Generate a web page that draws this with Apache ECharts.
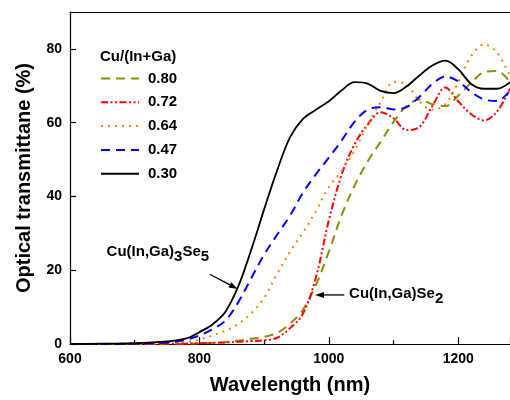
<!DOCTYPE html>
<html>
<head>
<meta charset="utf-8">
<script src="https://cdn.jsdelivr.net/npm/echarts@6/dist/echarts.min.js"></script>
<style>
  html, body { margin: 0; padding: 0; background: #fff; }
  #chart { width: 510px; height: 400px; }
</style>
</head>
<body>
<div id="chart"></div>
<script>
// Wavelength grid (nm) shared by every spectrum
const wavelength = [600, 650, 700, 750, 780, 800, 820, 840, 860, 880, 900, 920, 940, 960, 980,
  1000, 1020, 1040, 1060, 1080, 1100, 1120, 1140, 1160, 1180, 1200, 1220, 1240, 1260, 1280];

// Optical transmittance (%) for each Cu/(In+Ga) ratio
const t080 = [0, 0, 0, 0.1, 0.1, 0.2, 0.3, 0.5, 0.9, 1.4, 1.9, 3.0, 5.5, 9.3, 16.0,
  25.0, 35.0, 43.0, 49.5, 54.8, 60.2, 64.5, 66.3, 65.0, 64.5, 67.3, 70.8, 73.7, 74.0, 71.0];
const t072 = [0, 0, 0, 0.1, 0.1, 0.2, 0.3, 0.4, 0.6, 0.8, 1.0, 1.7, 4.3, 8.2, 18.0,
  33.5, 46.0, 54.2, 59.5, 62.8, 61.2, 58.0, 58.8, 64.5, 69.5, 65.8, 62.3, 60.6, 63.0, 69.2];
const t064 = [0, 0, 0, 0.2, 0.6, 1.2, 2.3, 3.6, 5.4, 8.3, 12.5, 19.0, 25.0, 30.2, 36.0,
  42.5, 47.0, 52.5, 59.5, 65.5, 71.0, 70.4, 65.8, 63.5, 65.0, 71.0, 78.0, 81.2, 79.0, 72.5];
const t047 = [0, 0, 0.1, 0.4, 1.2, 2.3, 4.0, 6.3, 11.3, 17.8, 24.2, 29.6, 34.8, 41.0, 46.0,
  50.5, 55.2, 60.3, 63.5, 64.2, 63.6, 64.2, 67.0, 70.5, 72.5, 71.2, 68.3, 66.3, 65.9, 68.7];
const t030 = [0, 0.1, 0.2, 0.7, 1.5, 3.2, 5.3, 8.7, 15.6, 25.5, 36.5, 47.0, 56.0, 61.0, 63.5,
  65.8, 68.8, 71.0, 70.6, 68.6, 68.0, 69.8, 72.8, 75.5, 76.8, 74.5, 70.5, 69.2, 69.2, 71.0];

const ratioLabels = ['0.80', '0.72', '0.64', '0.47', '0.30'];
const xTicks = [600, 800, 1000, 1200];
const yTicks = [0, 20, 40, 60, 80];

const FONT = '"Liberation Sans", Arial, sans-serif';

function pairs(ys) {
  return wavelength.map((x, i) => [x, ys[i]]);
}

const styles = [
  { color: '#8c8c00', type: [9, 6], width: 2 },
  { color: '#ff0000', type: [7, 2.5, 2, 2.5, 2, 2.5], width: 2 },
  { color: '#ff8000', type: [2, 5], width: 2 },
  { color: '#0000ff', type: [9, 6], width: 2 },
  { color: '#000000', type: 'solid', width: 1.8 }
];
const values = [t080, t072, t064, t047, t030];

const series = ratioLabels.map((name, i) => ({
  name: name,
  type: 'line',
  data: pairs(values[i]),
  smooth: 0.35,
  showSymbol: false,
  symbol: 'none',
  z: 2 + i,
  lineStyle: { color: styles[i].color, type: styles[i].type, width: styles[i].width },
  itemStyle: { color: styles[i].color }
}));

const chart = echarts.init(document.getElementById('chart'), null, { renderer: 'canvas' });

chart.setOption({
  animation: false,
  backgroundColor: '#ffffff',
  grid: { left: 70, right: 0, top: 12, bottom: 56, containLabel: false },
  title: {
    text: 'Cu/(In+Ga)',
    left: 100, top: 49,
    padding: 0,
    textStyle: { fontFamily: FONT, fontWeight: 'bold', fontSize: 15, color: '#000' }
  },
  legend: {
    orient: 'vertical',
    left: 100, top: 71,
    itemWidth: 38, itemHeight: 12, itemGap: 8.8,
    padding: 0,
    data: ratioLabels,
    itemStyle: { opacity: 0 },
    textStyle: { fontFamily: FONT, fontWeight: 'bold', fontSize: 15, color: '#000', padding: [0, 0, 0, 4] }
  },
  xAxis: [{
    type: 'value',
    min: 600, max: 1280, interval: 200,
    name: 'Wavelength (nm)',
    nameLocation: 'middle', nameGap: 31,
    nameTextStyle: { fontFamily: FONT, fontWeight: 'bold', fontSize: 20, color: '#000' },
    axisLine: { onZero: false, lineStyle: { color: '#000', width: 1.2 } },
    axisTick: { inside: true, length: 7, lineStyle: { color: '#000', width: 1.2 } },
    minorTick: { show: true, splitNumber: 2, length: 4, lineStyle: { color: '#000', width: 1.2 } },
    splitLine: { show: false },
    axisLabel: {
      margin: 8, fontFamily: FONT, fontWeight: 'bold', fontSize: 14, color: '#000',
      showMaxLabel: false,
      formatter: v => (xTicks.indexOf(v) >= 0 ? String(v) : '')
    }
  }, {
    type: 'value', position: 'top',
    min: 600, max: 1280,
    axisLine: { show: true, onZero: false, lineStyle: { color: '#000', width: 1.2 } },
    axisTick: { show: false }, axisLabel: { show: false }, splitLine: { show: false }
  }],
  yAxis: {
    type: 'value',
    min: 0, max: 90, interval: 20,
    name: 'Optical transmittane (%)',
    nameLocation: 'middle', nameGap: 36,
    nameTextStyle: { fontFamily: FONT, fontWeight: 'bold', fontSize: 20, color: '#000' },
    axisLine: { show: true, lineStyle: { color: '#000', width: 1.2 } },
    axisTick: { inside: true, length: 6, lineStyle: { color: '#000', width: 1.2 } },
    splitLine: { show: false },
    axisLabel: {
      margin: 8, fontFamily: FONT, fontWeight: 'bold', fontSize: 14, color: '#000',
      showMaxLabel: false,
      formatter: v => (yTicks.indexOf(v) >= 0 ? String(v) : '')
    }
  },
  series: series
});

// Phase annotations: chemical formulas with subscripts and pointer arrows,
// anchored in data coordinates.
const measureCtx = document.createElement('canvas').getContext('2d');
function textWidth(str, size) {
  measureCtx.font = 'bold ' + size + 'px ' + FONT;
  return measureCtx.measureText(str).width;
}
function formula(parts, x, y) {
  // parts: [text, isSubscript]
  const children = [];
  let cx = x;
  parts.forEach(p => {
    const size = 15;
    children.push({
      type: 'text', x: cx, y: p[1] ? y + 5 : y,
      style: { text: p[0], fontFamily: FONT, fontWeight: 'bold', fontSize: size,
        fill: '#000', verticalAlign: 'middle', align: 'left' }
    });
    cx += textWidth(p[0], size);
  });
  return { type: 'group', children: children };
}
function arrow(from, to) {
  const dx = to[0] - from[0], dy = to[1] - from[1];
  const len = Math.sqrt(dx * dx + dy * dy);
  const ux = dx / len, uy = dy / len;
  const headL = 9, headW = 3;
  const bx = to[0] - ux * headL, by = to[1] - uy * headL;
  return [{
    type: 'line',
    shape: { x1: from[0], y1: from[1], x2: bx, y2: by },
    style: { stroke: '#000', lineWidth: 1.3 }
  }, {
    type: 'polygon',
    shape: { points: [[to[0], to[1]], [bx - uy * headW, by + ux * headW], [bx + uy * headW, by - ux * headW]] },
    style: { fill: '#000' }
  }];
}

const px = c => chart.convertToPixel({ xAxisIndex: 0, yAxisIndex: 0 }, c);
const label1 = px([656.5, 24.9]);
const label2 = px([1031.3, 13.5]);
chart.setOption({
  graphic: [
    formula([['Cu(In,Ga)', false], ['3', true], ['Se', false], ['5', true]], label1[0], label1[1]),
    formula([['Cu(In,Ga)Se', false], ['2', true]], label2[0], label2[1]),
    ...arrow(px([816, 18.9]), px([859.4, 14.9])),
    ...arrow(px([1024, 13.3]), px([978.6, 13.3]))
  ]
});
</script>
</body>
</html>
